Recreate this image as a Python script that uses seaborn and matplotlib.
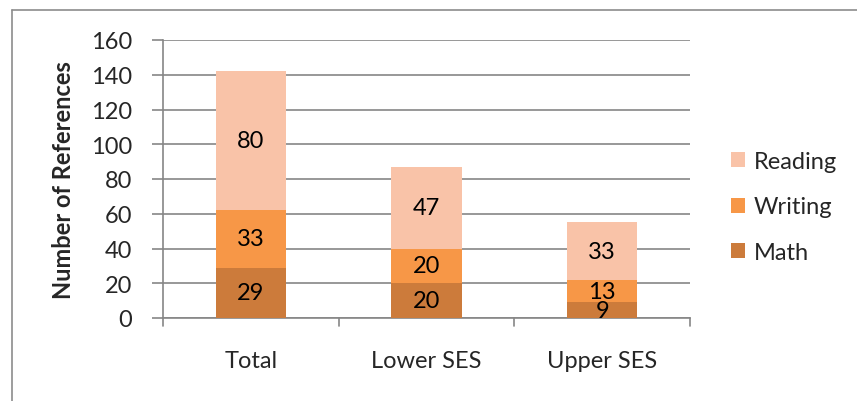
import matplotlib
matplotlib.use("Agg")
import matplotlib.pyplot as plt
import seaborn as sns
import pandas as pd
from matplotlib.patches import Patch
from matplotlib.lines import Line2D

categories = ["Total", "Lower SES", "Upper SES"]
math = [29, 20, 9]
writing = [33, 20, 13]
reading = [80, 47, 33]
series_names = ["Math", "Writing", "Reading"]
colors = {"Math": "#CC7B3B", "Writing": "#F79747", "Reading": "#F9C3A8"}
y_ticks = [0, 20, 40, 60, 80, 100, 120, 140, 160]

sns.set_theme(style="white")
plt.rcParams["font.family"] = ["Lato", "DejaVu Sans"]

FS = 17

df = pd.DataFrame({"category": categories, "Math": math,
                   "Writing": writing, "Reading": reading})

fig = plt.figure(figsize=(8.57, 4.02), dpi=100)
ax = fig.add_axes([163 / 857, 83 / 402, 527 / 857, 278 / 402])

bottoms = [0] * len(categories)
for name in series_names:
    vals = df[name].tolist()
    sns.barplot(data=df, x="category", y=name, color=colors[name],
                bottom=bottoms, width=0.4, ax=ax, zorder=3,
                edgecolor="none", linewidth=0, saturation=1)
    for i, (v, b) in enumerate(zip(vals, bottoms)):
        ax.text(i, b + v / 2, str(v), ha="center", va="center",
                fontsize=FS, color="black", zorder=4)
    bottoms = [b + v for b, v in zip(bottoms, vals)]

grid_color = "#868686"
ax.set_ylim(0, 160)
ax.set_xlim(-0.5, 2.5)
ax.set_yticks(y_ticks)
ax.set_yticklabels([str(t) for t in y_ticks], fontsize=FS)
ax.yaxis.grid(True, color=grid_color, linewidth=1.2, zorder=0)
ax.tick_params(axis="y", length=8, width=1.2, color=grid_color,
               left=True, pad=14)
ax.tick_params(axis="x", length=0, pad=23, labelsize=FS)
ax.set_xlabel("")
ax.set_ylabel("")
fig.text(64 / 857, 1 - 180 / 402, "Number of References", rotation=90,
         ha="center", va="center", fontsize=17, fontweight="bold")

for s in ["top", "right"]:
    ax.spines[s].set_visible(False)
for s in ["left", "bottom"]:
    ax.spines[s].set_color(grid_color)
    ax.spines[s].set_linewidth(1.2)

# category boundary tick marks below the x axis
for xb in [-0.5, 0.5, 1.5, 2.5]:
    ax.add_line(Line2D([xb, xb], [0, -0.028], transform=ax.get_xaxis_transform(),
                       color=grid_color, linewidth=1.2, clip_on=False))

handles = [Patch(facecolor=colors[n], edgecolor="none") for n in
           ["Reading", "Writing", "Math"]]
fig.legend(handles, ["Reading", "Writing", "Math"], loc="center left",
           bbox_to_anchor=(731 / 857, 1 - 208 / 402), frameon=False,
           fontsize=FS, handlelength=0.6, handleheight=0.6,
           handletextpad=0.35, labelspacing=1.05, borderpad=0,
           borderaxespad=0)

# chart frame (top and left edges)
fig.add_artist(Line2D([12 / 857, 1], [1 - 11 / 402, 1 - 11 / 402],
                      transform=fig.transFigure, color="#8C8C8C", linewidth=1.2))
fig.add_artist(Line2D([12 / 857, 12 / 857], [0, 1 - 11 / 402],
                      transform=fig.transFigure, color="#8C8C8C", linewidth=1.2))

fig.savefig("out.png", dpi=100)
